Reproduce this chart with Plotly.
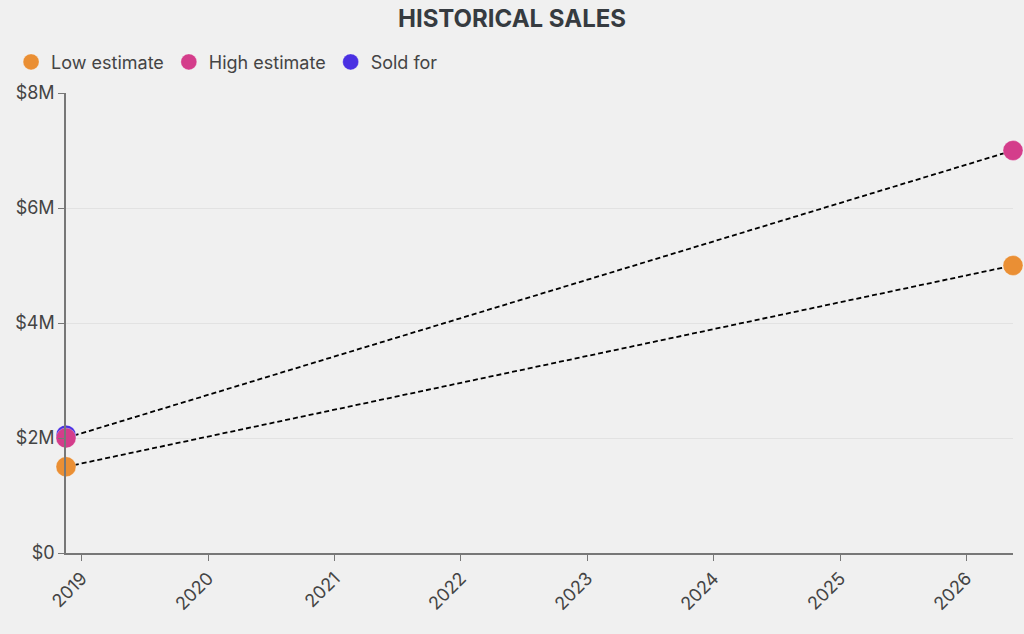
import plotly.graph_objects as go

dates = ["2018-11-16", "2026-05-16"]
low_estimate = [1500000, 5000000]
high_estimate = [2000000, 7000000]
sold_dates = ["2018-11-16"]
sold_for = [2050000]

y_ticks = [0, 2000000, 4000000, 6000000, 8000000]
y_tick_labels = ["$0", "$2M", "$4M", "$6M", "$8M"]

C_LOW = "#EA8F34"
C_HIGH = "#D43D8B"
C_SOLD = "#4A30E2"
FONT = "Inter"
MLINE = dict(width=0.5, color="rgba(255,255,255,0.6)")
DASH = dict(color="black", width=1.8, dash="5px,3px")

fig = go.Figure()
# connecting dotted lines (no legend)
fig.add_trace(go.Scatter(x=dates, y=low_estimate, mode="lines", line=DASH,
                         showlegend=False, hoverinfo="skip", cliponaxis=False))
fig.add_trace(go.Scatter(x=dates, y=high_estimate, mode="lines", line=DASH,
                         showlegend=False, hoverinfo="skip", cliponaxis=False))
# markers
fig.add_trace(go.Scatter(
    x=dates, y=low_estimate, name="Low estimate", mode="markers",
    marker=dict(color=C_LOW, size=20, line=MLINE), cliponaxis=False, legendrank=1,
))
fig.add_trace(go.Scatter(
    x=sold_dates, y=sold_for, name="Sold for", mode="markers",
    marker=dict(color=C_SOLD, size=20, line=MLINE), cliponaxis=False, legendrank=3,
))
fig.add_trace(go.Scatter(
    x=dates, y=high_estimate, name="High estimate", mode="markers",
    marker=dict(color=C_HIGH, size=20, line=MLINE), cliponaxis=False, legendrank=2,
))

fig.update_layout(
    width=1024, height=634,
    paper_bgcolor="#F0F0F0", plot_bgcolor="#F0F0F0",
    font=dict(family=FONT, size=17, color="#444"),
    margin=dict(l=66, r=11, t=93, b=81),
    title=dict(text="<b>HISTORICAL SALES</b>", x=0.5, xanchor="center", y=0.971, yanchor="middle",
               font=dict(family=FONT, size=24, color="#363b40")),
    legend=dict(orientation="h", x=-0.058, xanchor="left", y=1.067, yanchor="middle",
                font=dict(family=FONT, size=18, color="#444"), itemwidth=30,
                bgcolor="rgba(0,0,0,0)"),
    showlegend=True,
)
fig.update_xaxes(
    type="date", range=[dates[0], dates[-1]], dtick="M12", tick0="2019-01-01", tickformat="%Y",
    tickangle=-45, showgrid=False, zeroline=False, showline=True, linecolor="#777", linewidth=1.5,
    ticks="outside", ticklen=6, tickcolor="#777", tickfont=dict(size=18, color="#444"),
    automargin=False,
)
fig.update_yaxes(
    range=[0, 8000000], tickvals=y_ticks, ticktext=y_tick_labels,
    showgrid=True, gridcolor="#E2E2E2", gridwidth=1, zeroline=False,
    showline=True, linecolor="#777", linewidth=1.5, ticks="outside", ticklen=6, tickcolor="#777",
    tickfont=dict(size=18, color="#444"), automargin=False,
)

fig.write_html("out.html", config={"displayModeBar": False},
               post_script="document.body.style.margin='0';")
